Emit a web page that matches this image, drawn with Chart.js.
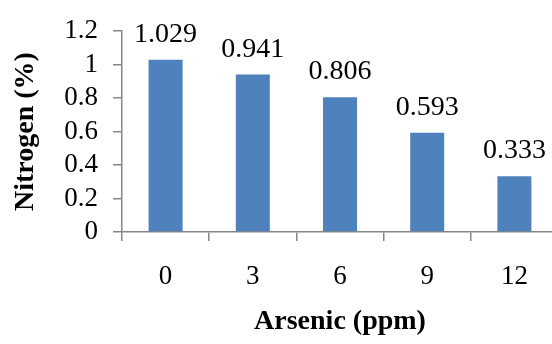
<!DOCTYPE html>
<html>
<head>
<meta charset="utf-8">
<script src="https://cdn.jsdelivr.net/npm/chart.js@4"></script>
<style>
  html, body { margin: 0; padding: 0; background: #fff; overflow: hidden; }
  #wrap { width: 552px; height: 344px; overflow: hidden; }
</style>
</head>
<body>
<div id="wrap"><canvas id="nChart" width="560" height="344"></canvas></div>
<script>
// Arsenic doses (ppm) and nitrogen content (%)
const doses = ['0', '3', '6', '9', '12'];
const nitrogen = [1.029, 0.941, 0.806, 0.593, 0.333];
const yTicks = [0, 0.2, 0.4, 0.6, 0.8, 1, 1.2];

const serif = '"Liberation Serif", "Times New Roman", serif';
const axisGray = '#868686';

// writes the value above each bar
const valueLabels = {
  id: 'valueLabels',
  afterDatasetsDraw(chart) {
    const ctx = chart.ctx;
    const meta = chart.getDatasetMeta(0);
    ctx.save();
    ctx.font = '28px ' + serif;
    ctx.fillStyle = '#000';
    ctx.textAlign = 'center';
    ctx.textBaseline = 'alphabetic';
    meta.data.forEach((bar, i) => {
      ctx.fillText(nitrogen[i].toFixed(3), bar.x, bar.y - 18);
    });
    ctx.restore();
  }
};

new Chart(document.getElementById('nChart'), {
  type: 'bar',
  data: {
    labels: doses,
    datasets: [{
      data: nitrogen,
      backgroundColor: '#4f81bd',
      borderWidth: 0,
      categoryPercentage: 1,
      barPercentage: 0.39
    }]
  },
  options: {
    responsive: false,
    animation: false,
    events: [],
    layout: { padding: { top: 26, right: 2, left: 0, bottom: 0 } },
    plugins: { legend: { display: false }, tooltip: { enabled: false } },
    scales: {
      x: {
        afterFit(scale) { scale.height = 112; },
        grid: { offset: true, drawOnChartArea: false, tickLength: 9, tickColor: axisGray, lineWidth: 1.5 },
        border: { color: axisGray, width: 1.5 },
        ticks: { color: '#000', padding: 20, font: { family: serif, size: 27 } },
        title: {
          display: true, text: 'Arsenic (ppm)', color: '#000',
          font: { family: serif, size: 28, weight: 'bold' },
          padding: { top: 0, bottom: 5 }
        }
      },
      y: {
        min: 0, max: 1.2,
        afterFit(scale) { scale.width = 122; },
        afterBuildTicks(scale) { scale.ticks = yTicks.map(v => ({ value: v })); },
        grid: { drawOnChartArea: false, tickLength: 9, tickColor: axisGray, lineWidth: 1.5 },
        border: { color: axisGray, width: 1.5 },
        ticks: {
          color: '#000', padding: 15, autoSkip: false, font: { family: serif, size: 27 },
          callback: v => String(Math.round(v * 10) / 10)
        },
        title: {
          display: true, text: 'Nitrogen (%)', color: '#000',
          font: { family: serif, size: 28, weight: 'bold' },
          padding: { top: 9, bottom: 0 }
        }
      }
    }
  },
  plugins: [valueLabels]
});
</script>
</body>
</html>
